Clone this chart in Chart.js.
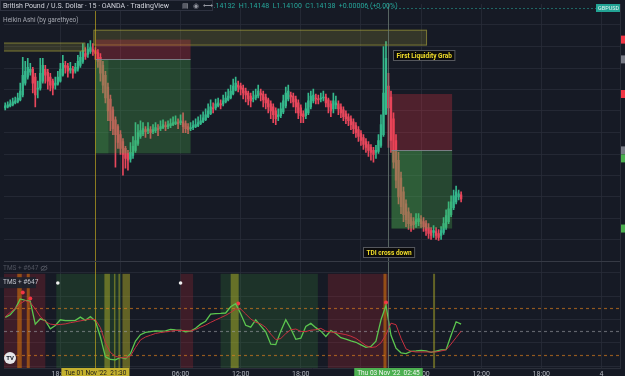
<!DOCTYPE html>
<html>
<head>
<meta charset="utf-8">
<title>GBPUSD 15 - Heikin Ashi + TDI</title>
<script src="https://cdn.jsdelivr.net/npm/chart.js@4.4.0/dist/chart.umd.min.js"></script>
<style>
  html, body { margin: 0; padding: 0; overflow: hidden; background: #161a25; }
  canvas { position: absolute; left: 0; top: 0; }
</style>
</head>
<body>
<canvas id="chart" width="680" height="386"></canvas>
<script>
// 15 min Heikin Ashi bars, time in hours counted from 01 Nov 00:00 (first bar 12:30)
const firstBar = 12.5;
const barOpen = [
  1.1495,1.1496,1.1497,1.1498,1.1500,1.1501,1.1503,1.1508,1.1520,1.1526,
  1.1531,1.1534,1.1526,1.1514,1.1515,1.1522,1.1534,1.1531,1.1526,1.1522,
  1.1518,1.1519,1.1522,1.1528,1.1538,1.1537,1.1533,1.1534,1.1532,1.1534,
  1.1538,1.1542,1.1550,1.1549,1.1552,1.1554,1.1553,1.1551,1.1546,1.1538,
  1.1528,1.1516,1.1504,1.1493,1.1483,1.1476,1.1468,1.1461,1.1454,1.1449,
  1.1443,1.1447,1.1452,1.1459,1.1466,1.1469,1.1473,1.1472,1.1473,1.1471,
  1.1472,1.1474,1.1474,1.1475,1.1477,1.1476,
  1.1477,1.1478,1.1479,1.1480,1.1480,1.1481,1.1479,1.1476,1.1474,1.1475,
  1.1476,1.1477,1.1479,1.1481,1.1483,1.1486,1.1489,1.1495,1.1495,1.1497,
  1.1499,1.1499,1.1501,1.1503,1.1505,1.1509,1.1513,1.1518,1.1517,1.1515,
  1.1512,1.1510,1.1507,1.1504,1.1505,1.1507,1.1510,1.1509,1.1506,1.1503,
  1.1499,1.1496,1.1492,1.1486,1.1487,1.1491,1.1497,1.1504,1.1508,1.1507,
  1.1504,1.1500,1.1495,1.1489,1.1487,1.1490,1.1496,1.1502,1.1505,1.1504,
  1.1504,1.1505,1.1506,1.1503,1.1499,1.1494,1.1498,1.1499,1.1496,1.1493,
  1.1489,1.1486,1.1484,1.1481,1.1477,1.1473,1.1469,1.1465,1.1461,1.1458,
  1.1455,1.1452,1.1450,1.1451,1.1457,1.1468,1.1489,1.1517,1.1506,1.1484,
  1.1462,1.1442,1.1424,1.1410,1.1398,1.1390,1.1384,1.1380,1.1378,1.1380,
  1.1382,1.1380,1.1378,1.1374,1.1371,1.1369,1.1370,1.1368,1.1366,1.1369,
  1.1374,1.1380,1.1387,1.1394,1.1400,1.1405,1.1407
];
const barClose = [
  1.1497,1.1498,1.1499,1.1501,1.1502,1.1505,1.1512,1.1528,1.1532,1.1536,
  1.1534,1.1520,1.1508,1.1515,1.1530,1.1538,1.1528,1.1522,1.1518,1.1515,
  1.1520,1.1526,1.1534,1.1540,1.1536,1.1532,1.1535,1.1530,1.1536,1.1542,
  1.1546,1.1553,1.1547,1.1554,1.1556,1.1552,1.1550,1.1542,1.1530,1.1518,
  1.1505,1.1492,1.1482,1.1474,1.1468,1.1460,1.1454,1.1448,1.1444,1.1442,
  1.1450,1.1456,1.1462,1.1470,1.1472,1.1474,1.1471,1.1474,1.1470,1.1473,
  1.1475,1.1473,1.1476,1.1478,1.1476,1.1478,
  1.1479,1.1480,1.1481,1.1479,1.1482,1.1476,1.1474,1.1473,1.1475,1.1477,
  1.1478,1.1480,1.1482,1.1485,1.1488,1.1492,1.1496,1.1494,1.1499,1.1500,
  1.1498,1.1502,1.1505,1.1507,1.1512,1.1517,1.1520,1.1516,1.1514,1.1510,
  1.1508,1.1504,1.1502,1.1505,1.1508,1.1512,1.1508,1.1503,1.1500,1.1496,
  1.1492,1.1488,1.1484,1.1488,1.1494,1.1502,1.1510,1.1512,1.1506,1.1501,
  1.1496,1.1490,1.1487,1.1486,1.1494,1.1502,1.1507,1.1508,1.1504,1.1503,
  1.1505,1.1506,1.1500,1.1496,1.1492,1.1502,1.1500,1.1494,1.1490,1.1486,
  1.1484,1.1482,1.1478,1.1474,1.1470,1.1466,1.1462,1.1458,1.1455,1.1452,
  1.1450,1.1448,1.1452,1.1462,1.1478,1.1510,1.1545,1.1495,1.1462,1.1440,
  1.1422,1.1405,1.1395,1.1387,1.1382,1.1378,1.1376,1.1377,1.1382,1.1383,
  1.1378,1.1375,1.1371,1.1368,1.1366,1.1371,1.1366,1.1364,1.1371,1.1378,
  1.1386,1.1393,1.1400,1.1406,1.1410,1.1408,1.1403
];
const barHigh = [
  1.1500,1.1501,1.1503,1.1505,1.1506,1.1510,1.1520,1.1546,1.1542,1.1545,
  1.1540,1.1536,1.1530,1.1522,1.1545,1.1545,1.1538,1.1534,1.1530,1.1524,
  1.1526,1.1532,1.1540,1.1548,1.1542,1.1540,1.1541,1.1537,1.1540,1.1548,
  1.1552,1.1560,1.1556,1.1560,1.1563,1.1560,1.1556,1.1554,1.1550,1.1542,
  1.1532,1.1520,1.1508,1.1496,1.1486,1.1478,1.1472,1.1464,1.1456,1.1452,
  1.1460,1.1466,1.1480,1.1478,1.1482,1.1480,1.1476,1.1480,1.1476,1.1478,
  1.1480,1.1478,1.1482,1.1483,1.1481,1.1482,
  1.1484,1.1486,1.1487,1.1484,1.1488,1.1490,1.1482,1.1479,1.1480,1.1482,
  1.1484,1.1486,1.1488,1.1491,1.1494,1.1499,1.1503,1.1500,1.1504,1.1505,
  1.1503,1.1508,1.1511,1.1514,1.1518,1.1524,1.1526,1.1522,1.1520,1.1518,
  1.1515,1.1512,1.1510,1.1512,1.1514,1.1518,1.1514,1.1512,1.1509,1.1505,
  1.1502,1.1499,1.1495,1.1494,1.1500,1.1508,1.1516,1.1518,1.1511,1.1510,
  1.1507,1.1503,1.1498,1.1492,1.1500,1.1510,1.1512,1.1514,1.1509,1.1508,
  1.1510,1.1512,1.1509,1.1505,1.1502,1.1510,1.1507,1.1502,1.1499,1.1496,
  1.1492,1.1489,1.1487,1.1484,1.1480,1.1476,1.1472,1.1468,1.1464,1.1461,
  1.1458,1.1455,1.1457,1.1468,1.1488,1.1557,1.1562,1.1530,1.1512,1.1490,
  1.1468,1.1450,1.1430,1.1415,1.1402,1.1394,1.1388,1.1384,1.1388,1.1388,
  1.1386,1.1384,1.1381,1.1378,1.1374,1.1376,1.1374,1.1372,1.1375,1.1384,
  1.1392,1.1400,1.1406,1.1412,1.1416,1.1412,1.1410
];
const barLow = [
  1.1493,1.1495,1.1496,1.1497,1.1499,1.1500,1.1502,1.1506,1.1518,1.1524,
  1.1528,1.1510,1.1496,1.1505,1.1513,1.1520,1.1520,1.1514,1.1512,1.1508,
  1.1514,1.1518,1.1521,1.1527,1.1530,1.1526,1.1530,1.1525,1.1530,1.1532,
  1.1536,1.1540,1.1544,1.1546,1.1550,1.1548,1.1544,1.1536,1.1522,1.1510,
  1.1500,1.1482,1.1472,1.1468,1.1435,1.1454,1.1448,1.1427,1.1434,1.1432,
  1.1440,1.1444,1.1450,1.1457,1.1464,1.1467,1.1465,1.1469,1.1464,1.1469,
  1.1470,1.1467,1.1472,1.1474,1.1472,1.1474,
  1.1475,1.1477,1.1478,1.1474,1.1478,1.1470,1.1470,1.1469,1.1472,1.1473,
  1.1475,1.1476,1.1478,1.1480,1.1482,1.1485,1.1488,1.1490,1.1493,1.1496,
  1.1494,1.1497,1.1500,1.1502,1.1504,1.1508,1.1512,1.1511,1.1508,1.1504,
  1.1501,1.1498,1.1496,1.1501,1.1503,1.1505,1.1502,1.1496,1.1494,1.1490,
  1.1484,1.1480,1.1478,1.1482,1.1485,1.1489,1.1495,1.1502,1.1500,1.1496,
  1.1490,1.1484,1.1480,1.1480,1.1484,1.1488,1.1494,1.1500,1.1499,1.1499,
  1.1501,1.1502,1.1496,1.1490,1.1486,1.1490,1.1494,1.1488,1.1485,1.1482,
  1.1479,1.1477,1.1473,1.1469,1.1465,1.1461,1.1457,1.1453,1.1450,1.1446,
  1.1442,1.1440,1.1444,1.1449,1.1455,1.1466,1.1488,1.1455,1.1450,1.1434,
  1.1414,1.1398,1.1388,1.1380,1.1375,1.1372,1.1370,1.1372,1.1374,1.1376,
  1.1374,1.1370,1.1366,1.1363,1.1362,1.1364,1.1362,1.1361,1.1362,1.1367,
  1.1372,1.1378,1.1385,1.1392,1.1398,1.1402,1.1400
];

// TDI (every 30 min from 12:30): green = RSI price line, red = trade signal line
const tdiStart = 12.5;
const tdiGreen = [
  61.8,64,69,77.5,76.2,75.5,56,60.5,59,52,
  54.8,59.7,59,59,59.2,62,59.2,62.5,58.5,45,
  28,25.8,25.4,27.5,26.3,30.8,41.5,47,49,49.5,
  50.2,50.1,50.3,51.5,51,50.8,49.5,50,52.5,56,
  58.5,64.5,65,65.1,65.5,70.8,73.5,64.8,55,53.4,
  59.7,54.5,49.5,38.8,38.5,50,59.8,52,43,44,
  54,56.6,53,50,45.5,50.5,48,44.4,43.2,41.6,
  40.5,38.3,36.2,37,41.5,59.5,72,46.5,35.5,31.5,
  30.8,32.7,33.1,33.6,33.2,31.8,33,34,34.2,46.5,
  58,56
];
const tdiRed = [
  62.2,66,69.5,73.5,76.2,74.5,69,62.5,58.2,56,
  55.5,55.7,56.2,57.2,58,58.8,59.6,60.3,59.8,53,
  40,31.8,28.5,27.4,27.2,28.8,36,42.5,45,46.5,
  48,48.8,49.4,49.9,50.6,50.6,50.5,50.1,51.4,53.4,
  55.2,57.5,59.5,61.5,63.5,66,68.9,68.9,64.7,60.4,
  57.6,56.2,53.2,47.5,42.8,43.7,47.9,51.2,51.8,49.8,
  49.6,50.8,51.2,52.4,50,49.3,48.6,47.8,47,45.7,
  43.8,40.8,37.6,36,36.6,40,47,56.8,55.5,44,
  34.8,32.8,32.2,32.2,32.2,32.2,32.2,33.1,34,39,
  44.5,50
];
const peakTimes = [14.25, 15.0, 35.75, 50.5];
const peakValues = [83, 78, 73.7, 74.5];
const markTimes = [17.75, 30.0];
const markValues = [91.2, 91.2];
const tdiLevels = [70, 50, 30];
const zoneCeiling = 99;

// indicator background zones [from, to] in hours
const tdiRedZones = [[12.0, 16.5], [30.0, 31.25], [44.7, 50.75]];
const tdiGreenZones = [[17.6, 24.1], [34.0, 43.7]];
const tdiOrangeBars = [[13.7, 14.15], [14.65, 14.95], [50.25, 50.55]];
const tdiOliveBars = [[22.4, 22.95], [23.35, 23.5], [23.8, 23.95], [24.2, 24.95], [35.0, 35.8], [55.2, 55.4]];

// drawings on the price pane
const zoneBoxes = [[12.0, 20.5, 1.1561, 1.1552], [21.3, 54.6, 1.1574, 1.1558]];
const posStart = [21.5, 51.05];
const posEnd = [31.0, 57.1];
const posReached = [22.8, 54.1];
const posStop = [1.1564, 1.1509];
const posEntry = [1.1544, 1.1452];
const posTarget = [1.1449, 1.1373];
const crossTimes = [21.5, 50.75];
const crossLabels = ["Tue 01 Nov '22  21:30", "Thu 03 Nov '22  02:45"];
const notes = [
  { text: 'First Liquidity Grab', t: 51.25, p: 1.1548 },
  { text: 'TDI cross down', t: 48.25, p: 1.1349 }
];

// axes
const viewStart = 12.378;
const viewEnd = 73.856;
const tickHours = [18, 24, 30, 36, 42, 48, 54, 60, 66, 72];
const tickLabels = ['18:00', '2', '06:00', '12:00', '18:00', '3', '06:00', '12:00', '18:00', '4'];
const priceTicks = [1.1579, 1.1557, 1.1535, 1.1514, 1.1492, 1.1470, 1.1448, 1.1427, 1.1405, 1.1383, 1.1362];
const tdiTicks = [20, 40, 60, 80, 100];

const FONT = 'Roboto, "Liberation Sans", sans-serif';
const UP = '#35b88c';
const DOWN = '#e8475c';
const GRID = 'rgba(42,46,57,0.75)';

const times = barOpen.map((_, i) => firstBar + i * 0.25);
const candleColor = barClose.map((c, i) => (c >= barOpen[i] ? UP : DOWN));
const tdiTimes = tdiGreen.map((_, i) => tdiStart + i * 0.5);

function spanRect(xs, ys, t0, t1, v0, v1) {
  const xa = xs.getPixelForValue(t0), xb = xs.getPixelForValue(t1);
  const ya = ys.getPixelForValue(v0), yb = ys.getPixelForValue(v1);
  return [xa, Math.min(ya, yb), xb - xa, Math.abs(yb - ya)];
}

const drawings = {
  id: 'drawings',
  beforeDatasetsDraw(chart) {
    const { ctx, chartArea, scales: { x, y2 } } = chart;
    ctx.save();
    ctx.beginPath();
    ctx.rect(chartArea.left, chartArea.top, chartArea.width, chartArea.height);
    ctx.clip();
    const top = y2.getPixelForValue(zoneCeiling), bottom = y2.bottom;
    const band = (list, color) => {
      ctx.fillStyle = color;
      list.forEach(([a, b]) => {
        const xa = x.getPixelForValue(a), xb = x.getPixelForValue(b);
        ctx.fillRect(xa, top, xb - xa, bottom - top);
      });
    };
    band(tdiRedZones, 'rgba(178,40,51,0.26)');
    band(tdiGreenZones, 'rgba(56,142,60,0.22)');
    band(tdiOrangeBars, 'rgba(255,140,0,0.45)');
    band(tdiOliveBars, 'rgba(205,200,40,0.42)');

    ctx.lineWidth = 1.2;
    ctx.setLineDash([3, 3]);
    tdiLevels.forEach(lv => {
      const py = Math.round(y2.getPixelForValue(lv)) + 0.5;
      ctx.strokeStyle = lv === 50 ? 'rgba(160,163,170,0.55)' : 'rgba(230,130,30,0.6)';
      ctx.beginPath();
      ctx.moveTo(chartArea.left, py);
      ctx.lineTo(chartArea.right, py);
      ctx.stroke();
    });
    ctx.restore();
  },
  afterDatasetsDraw(chart) {
    const { ctx, chartArea, scales: { x, y, y2 } } = chart;
    ctx.save();
    ctx.beginPath();
    ctx.rect(chartArea.left, chartArea.top, chartArea.width, chartArea.height);
    ctx.clip();

    // supply zones
    zoneBoxes.forEach(([t0, t1, p0, p1]) => {
      const r = spanRect(x, y, t0, t1, p0, p1);
      ctx.fillStyle = 'rgba(160,155,60,0.22)';
      ctx.fillRect(...r);
      ctx.strokeStyle = 'rgba(170,165,60,0.6)';
      ctx.lineWidth = 1;
      ctx.strokeRect(r[0] + 0.5, r[1] + 0.5, r[2] - 1, r[3] - 1);
    });

    // short positions
    posStart.forEach((t0, i) => {
      const stop = spanRect(x, y, t0, posEnd[i], posStop[i], posEntry[i]);
      ctx.fillStyle = 'rgba(242,54,69,0.26)';
      ctx.fillRect(...stop);
      const tgt = spanRect(x, y, t0, posEnd[i], posEntry[i], posTarget[i]);
      ctx.fillStyle = 'rgba(76,175,80,0.30)';
      ctx.fillRect(...tgt);
      const hit = spanRect(x, y, t0, posReached[i], posEntry[i], posTarget[i]);
      ctx.fillStyle = 'rgba(76,175,80,0.22)';
      ctx.fillRect(...hit);
      const ey = Math.round(y.getPixelForValue(posEntry[i])) + 0.5;
      ctx.strokeStyle = 'rgba(130,133,143,0.9)';
      ctx.beginPath();
      ctx.moveTo(stop[0], ey);
      ctx.lineTo(stop[0] + stop[2], ey);
      ctx.stroke();
    });

    // crosshair / marker verticals
    ctx.lineWidth = 1;
    crossTimes.forEach((t, i) => {
      const px = Math.round(x.getPixelForValue(t)) + 0.5;
      ctx.strokeStyle = i === 0 ? 'rgba(190,165,30,0.7)' : 'rgba(110,125,118,0.75)';
      ctx.beginPath();
      ctx.moveTo(px, chartArea.top);
      ctx.lineTo(px, chartArea.bottom);
      ctx.stroke();
    });

    // text notes
    ctx.font = 'bold 6.5px ' + FONT;
    ctx.textBaseline = 'middle';
    notes.forEach(n => {
      const w = ctx.measureText(n.text).width + 6;
      const nx = Math.round(x.getPixelForValue(n.t)) + 0.5;
      const ny = Math.round(y.getPixelForValue(n.p) - 5) + 0.5;
      ctx.fillStyle = '#0b0b0c';
      ctx.fillRect(nx, ny, w, 10);
      ctx.strokeStyle = '#55575d';
      ctx.strokeRect(nx, ny, w, 10);
      ctx.fillStyle = '#f2de2a';
      ctx.fillText(n.text, nx + 3, ny + 5.5);
    });

    // pane separator
    ctx.strokeStyle = '#363a45';
    ctx.beginPath();
    ctx.moveTo(chartArea.left, Math.round(y2.top) + 0.5);
    ctx.lineTo(chartArea.right, Math.round(y2.top) + 0.5);
    ctx.stroke();
    ctx.restore();
  },
  afterDraw(chart) {
    const { ctx, chartArea, scales: { x, y, y2 } } = chart;
    ctx.save();
    ctx.textBaseline = 'middle';

    // overlay symbol price line + tag
    ctx.strokeStyle = 'rgba(38,166,154,0.55)';
    ctx.setLineDash([2, 2]);
    ctx.beginPath();
    ctx.moveTo(367, 8.5);
    ctx.lineTo(596, 8.5);
    ctx.stroke();
    ctx.setLineDash([]);
    ctx.fillStyle = '#22a394';
    ctx.fillRect(596, 4, 24, 8);
    ctx.fillStyle = '#e8f5f3';
    ctx.font = '5.5px ' + FONT;
    ctx.fillText('GBPUSD', 598, 8.3);

    // symbol header
    ctx.font = '7px ' + FONT;
    ctx.fillStyle = '#26a69a';
    ctx.fillText('O1.14132  H1.14148  L1.14100  C1.14138  +0.00006 (+0.00%)', 205, 6);
    ctx.fillStyle = 'rgba(22,26,37,0.96)';
    ctx.fillRect(0, 0, 213, 11);
    ctx.strokeStyle = '#2e3240';
    ctx.strokeRect(0.5, 0.5, 212, 10);
    ctx.fillStyle = '#d1d4dc';
    ctx.fillText('British Pound / U.S. Dollar · 15 · OANDA · TradingView', 3, 6);
    ctx.fillStyle = '#9598a1';
    ctx.fillText('▤', 182, 6);
    ctx.fillText('◉', 193, 6);
    ctx.fillText('⟷', 203, 6);

    ctx.font = '6.5px ' + FONT;
    ctx.fillStyle = '#a3a6af';
    ctx.fillText('Heikin Ashi (by garethyeo)', 3, 20);

    // indicator legend
    const ly = y2.top + 7;
    ctx.fillStyle = '#50535e';
    ctx.fillText('TMS + #647', 3, ly);
    ctx.strokeStyle = '#50535e';
    ctx.beginPath();
    ctx.ellipse(44, ly, 3, 2, 0, 0, Math.PI * 2);
    ctx.moveTo(41, ly + 3);
    ctx.lineTo(47, ly - 3);
    ctx.stroke();
    ctx.fillStyle = 'rgba(30,34,45,0.95)';
    ctx.fillRect(0, y2.top + 16, 36, 11);
    ctx.fillStyle = '#c3c6ce';
    ctx.fillText('TMS + #647', 3, y2.top + 21.5);

    // logo
    ctx.fillStyle = '#e6e7ea';
    ctx.beginPath();
    ctx.arc(10, 358, 6, 0, Math.PI * 2);
    ctx.fill();
    ctx.fillStyle = '#131722';
    ctx.font = 'bold 6px ' + FONT;
    ctx.fillText('TV', 6.3, 358.3);

    // time-axis labels of the two verticals
    ctx.font = '6.5px ' + FONT;
    ctx.textAlign = 'center';
    crossTimes.forEach((t, i) => {
      const px = x.getPixelForValue(t);
      const w = ctx.measureText(crossLabels[i]).width + 6;
      ctx.fillStyle = i === 0 ? '#c4b12e' : '#4caf50';
      ctx.fillRect(px - w / 2, chartArea.bottom, w, 10);
      ctx.fillStyle = i === 0 ? '#1b1b1b' : '#f0f3f0';
      ctx.fillText(crossLabels[i], px, chartArea.bottom + 5.5);
    });
    ctx.textAlign = 'left';

    // price-axis tags of the position tools
    const tags = [];
    posStop.forEach(p => tags.push([p, '#f23645']));
    posEntry.forEach(p => tags.push([p, '#787b86']));
    posTarget.forEach(p => tags.push([p, '#4caf50']));
    tags.sort((a, b) => b[0] - a[0]);
    let lastBottom = -Infinity;
    tags.forEach(([p, color]) => {
      let ty = y.getPixelForValue(p) - 4;
      if (ty < lastBottom) ty = lastBottom;
      ctx.fillStyle = color;
      ctx.fillRect(chartArea.right + 1, ty, 50, 8);
      ctx.fillStyle = '#ffffff';
      ctx.fillText(p.toFixed(5), chartArea.right + 5, ty + 4);
      lastBottom = ty + 8;
    });
    ctx.restore();
  }
};

new Chart(document.getElementById('chart'), {
  type: 'bar',
  data: {
    datasets: [
      {
        label: 'wicks',
        data: times.map((t, i) => ({ x: t, y: [barLow[i], barHigh[i]] })),
        backgroundColor: candleColor,
        barThickness: 1,
        grouped: false,
        yAxisID: 'y'
      },
      {
        label: 'bodies',
        data: times.map((t, i) => ({ x: t, y: [barOpen[i], barClose[i]] })),
        backgroundColor: candleColor,
        barThickness: 1.7,
        minBarLength: 1,
        grouped: false,
        yAxisID: 'y'
      },
      {
        type: 'line',
        label: 'signal',
        data: tdiTimes.map((t, i) => ({ x: t, y: tdiRed[i] })),
        borderColor: '#c8303f',
        borderWidth: 1,
        pointRadius: 0,
        yAxisID: 'y2'
      },
      {
        type: 'line',
        label: 'rsi',
        data: tdiTimes.map((t, i) => ({ x: t, y: tdiGreen[i] })),
        borderColor: '#5cc64f',
        borderWidth: 1.3,
        pointRadius: 0,
        yAxisID: 'y2'
      },
      {
        type: 'line',
        label: 'peaks',
        data: peakTimes.map((t, i) => ({ x: t, y: peakValues[i] })),
        showLine: false,
        pointRadius: 2,
        pointBorderWidth: 0,
        pointBackgroundColor: '#f23645',
        yAxisID: 'y2'
      },
      {
        type: 'line',
        label: 'marks',
        data: markTimes.map((t, i) => ({ x: t, y: markValues[i] })),
        showLine: false,
        pointRadius: 1.8,
        pointBorderWidth: 0,
        pointBackgroundColor: '#f0f0f0',
        yAxisID: 'y2'
      }
    ]
  },
  options: {
    responsive: false,
    animation: false,
    devicePixelRatio: 1,
    events: [],
    layout: { padding: { top: -3, left: 0, right: 0, bottom: 0 } },
    plugins: { legend: { display: false }, tooltip: { enabled: false } },
    scales: {
      x: {
        type: 'linear',
        min: viewStart,
        max: viewEnd,
        bounds: 'data',
        offset: false,
        afterBuildTicks: s => { s.ticks = tickHours.map(v => ({ value: v })); },
        afterFit: s => { s.height = 18; },
        grid: { color: GRID, drawTicks: false, offset: false },
        border: { color: '#2a2e39' },
        ticks: {
          color: '#b2b5be',
          font: { family: FONT, size: 7 },
          padding: 2,
          maxRotation: 0,
          autoSkip: false,
          callback: v => tickLabels[tickHours.indexOf(v)]
        }
      },
      y: {
        position: 'right',
        stack: 'panes',
        stackWeight: 260,
        min: 1.134,
        max: 1.16,
        bounds: 'data',
        afterBuildTicks: s => { s.ticks = priceTicks.map(v => ({ value: v })); },
        afterFit: s => { s.width = 60; },
        grid: { color: GRID, drawTicks: false },
        border: { color: '#2a2e39' },
        ticks: { display: false }
      },
      y2: {
        position: 'right',
        stack: 'panes',
        stackWeight: 108,
        min: 18.5,
        max: 109.8,
        bounds: 'data',
        afterBuildTicks: s => { s.ticks = tdiTicks.map(v => ({ value: v })); },
        afterFit: s => { s.width = 60; },
        grid: { color: GRID, drawTicks: false },
        border: { color: '#2a2e39' },
        ticks: { display: false }
      }
    }
  },
  plugins: [drawings]
});
</script>
</body>
</html>
